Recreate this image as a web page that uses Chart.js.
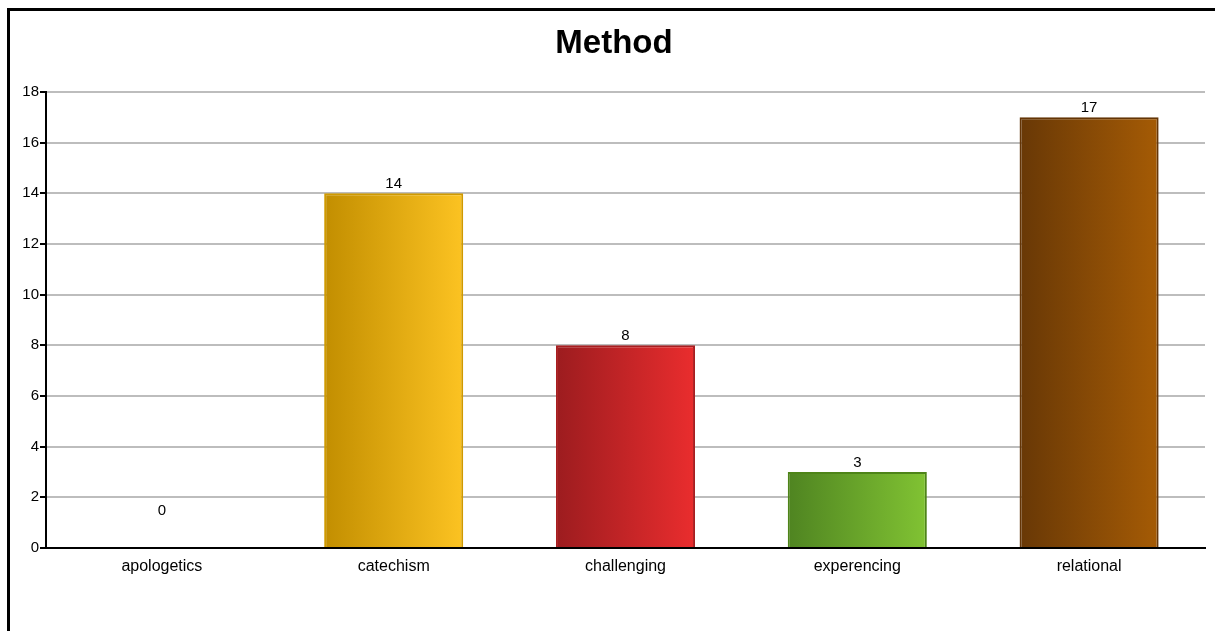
<!DOCTYPE html>
<html lang="en">
  <head>
    <meta charset="UTF-8" />
    <title>Method</title>
    <script src="https://cdn.jsdelivr.net/npm/chart.js@4.4.0/dist/chart.umd.min.js"></script>
    <style>
      html, body {
        margin: 0;
        padding: 0;
        background: #fff;
        overflow: hidden;
      }
      .frame {
        position: absolute;
        left: 7px;
        top: 8px;
        width: 1240px;
        height: 660px;
        border: 3px solid #000;
        box-sizing: border-box;
      }
      .chart-box {
        position: absolute;
        left: 0;
        top: 0;
        width: 1215px;
        height: 631px;
      }
    </style>
  </head>
  <body>
    <div class="frame"></div>
    <div class="chart-box">
      <canvas id="methodChart"></canvas>
    </div>

    <script>
      // chart data
      const chartTitle = "Method";
      const categories = ["apologetics", "catechism", "challenging", "experencing", "relational"];
      const counts = [0, 14, 8, 3, 17];
      const yTicks = [0, 2, 4, 6, 8, 10, 12, 14, 16, 18];

      // gradient colours per bar: [left, right, border]
      const barColors = [
        ["#2a5fa8", "#4a8ad8", "#2a5fa8"],
        ["#c28e00", "#fcc322", "#d09a00"],
        ["#9c1c1f", "#ea2d2e", "#a81e20"],
        ["#4f8421", "#81c333", "#4e8418"],
        ["#683806", "#a55b05", "#643506"],
      ];

      const FONT = "Arial, 'Liberation Sans', sans-serif";

      function barGradient(context) {
        const chart = context.chart;
        const i = context.dataIndex;
        const area = chart.chartArea;
        if (!area || !chart.scales.x) return barColors[i][1];
        const cx = chart.scales.x.getPixelForValue(i);
        const w = (area.width / categories.length) * 0.6;
        const g = chart.ctx.createLinearGradient(cx - w / 2, 0, cx + w / 2, 0);
        g.addColorStop(0, barColors[i][0]);
        g.addColorStop(1, barColors[i][1]);
        return g;
      }

      // title centred on the framed box, value above every bar
      const extras = {
        id: "extras",
        afterDatasetsDraw(chart) {
          const ctx = chart.ctx;
          const meta = chart.getDatasetMeta(0);
          const bottom = chart.chartArea.bottom;
          ctx.save();
          ctx.fillStyle = "#000";
          ctx.textAlign = "center";

          ctx.font = "bold 33px " + FONT;
          ctx.textBaseline = "alphabetic";
          ctx.fillText(chartTitle, 614, 53);

          ctx.font = "15px " + FONT;
          ctx.textBaseline = "bottom";
          meta.data.forEach((bar, i) => {
            const y = Math.min(bar.y - 2, bottom - 30);
            ctx.fillText(String(counts[i]), bar.x, y);
          });
          ctx.restore();
        },
      };

      const ctx = document.getElementById("methodChart").getContext("2d");
      const chart = new Chart(ctx, {
        type: "bar",
        data: {
          labels: categories,
          datasets: [
            {
              data: counts,
              backgroundColor: barGradient,
              borderColor: barColors.map((c) => c[2]),
              borderWidth: 2,
              borderSkipped: "bottom",
              categoryPercentage: 1,
              barPercentage: 0.6,
            },
          ],
        },
        options: {
          responsive: true,
          maintainAspectRatio: false,
          animation: false,
          layout: {
            padding: { left: 0, right: 10, top: 92, bottom: 53 },
          },
          plugins: {
            legend: { display: false },
            tooltip: { enabled: false },
            title: { display: false },
          },
          scales: {
            x: {
              grid: { display: false },
              border: { display: true, color: "#000", width: 2 },
              ticks: {
                color: "#000",
                font: { family: FONT, size: 16 },
                padding: 1,
                maxRotation: 0,
              },
              afterFit(scale) {
                scale.height = 30;
              },
            },
            y: {
              min: 0,
              max: 18,
              afterBuildTicks(scale) {
                scale.ticks = yTicks.map((v) => ({ value: v }));
              },
              grid: {
                color: "#bdbdbd",
                lineWidth: 2,
                tickLength: 6,
                tickColor: "#000",
              },
              border: { display: true, color: "#000", width: 2 },
              ticks: {
                color: "#000",
                font: { family: FONT, size: 15 },
                padding: 1,
              },
              afterFit(scale) {
                scale.width = 46;
              },
            },
          },
        },
        plugins: [extras],
      });
    </script>
  </body>
</html>
